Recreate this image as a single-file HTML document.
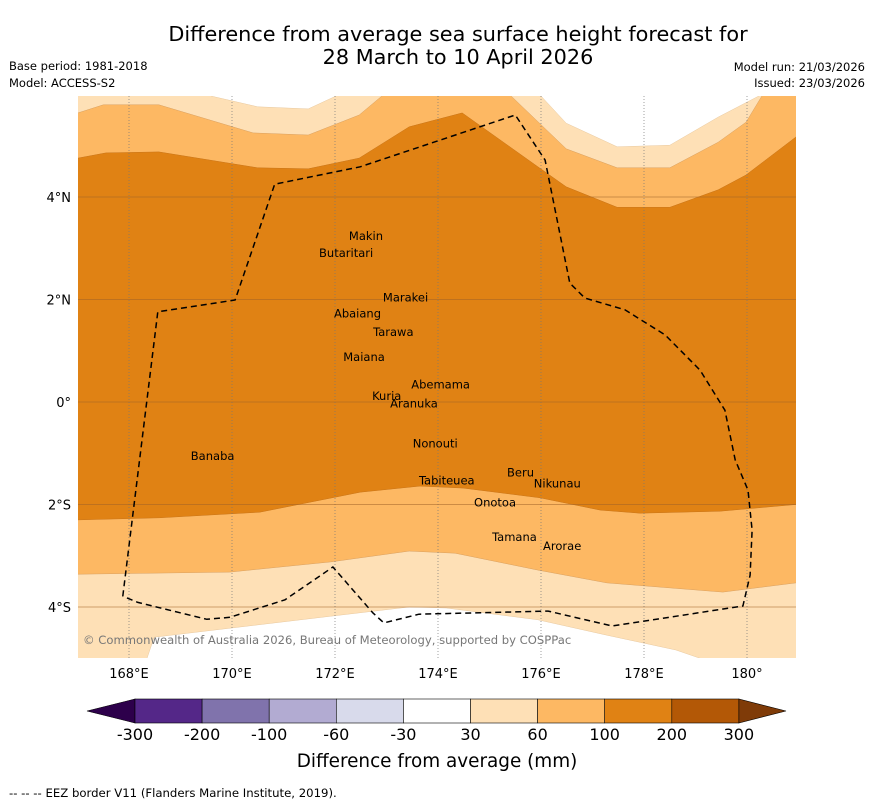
<!DOCTYPE html>
<html><head><meta charset="utf-8"><style>
body{margin:0;background:#fff;}
svg{display:block;font-family:"DejaVu Sans","Liberation Sans",sans-serif;}
</style></head><body>
<svg id="chart" width="873" height="804" viewBox="0 0 873 804" xmlns="http://www.w3.org/2000/svg">
<text x="458" y="41" font-size="20.8" text-anchor="middle">Difference from average sea surface height forecast for</text>
<text x="458" y="64" font-size="20.8" text-anchor="middle">28 March to 10 April 2026</text>
<text x="9" y="70" font-size="11.5">Base period: 1981-2018</text>
<text x="9" y="87" font-size="11.5">Model: ACCESS-S2</text>
<text x="865" y="71" font-size="11.5" text-anchor="end">Model run: 21/03/2026</text>
<text x="865" y="87" font-size="11.5" text-anchor="end">Issued: 23/03/2026</text>
<defs><clipPath id="mapclip"><rect x="78" y="96" width="718" height="562"/></clipPath></defs>
<g id="map" clip-path="url(#mapclip)"></g>
<g id="axes"></g>
<g id="cbar"></g>
<text x="437" y="767" font-size="18.4" text-anchor="middle">Difference from average (mm)</text>
<text x="9" y="797" font-size="11.7">--  --  -- EEZ border V11 (Flanders Marine Institute, 2019).</text>
</svg>
<script>
const lonTicks=[168,170,172,174,176,178,180];
const lonTickLabels=["168°E","170°E","172°E","174°E","176°E","178°E","180°"];
const latTicks=[4,2,0,-2,-4];
const latTickLabels=["4°N","2°N","0°","2°S","4°S"];
const band100Top=[[167.01,4.76],[167.55,4.86],[168.58,4.88],[170.50,4.57],[171.48,4.55],[172.47,4.76],[173.44,5.37],[174.47,5.64],[175.94,4.59],[176.49,4.20],[177.48,3.80],[178.50,3.80],[179.44,4.14],[179.98,4.43],[180.95,5.17]];
const band100Bottom=[[167.01,-2.30],[168.60,-2.26],[170.54,-2.15],[172.49,-1.76],[173.65,-1.64],[174.49,-1.68],[175.98,-1.87],[177.15,-2.11],[177.92,-2.17],[179.48,-2.13],[180.95,-2.00]];
const band60TopLeft=[[167.01,5.64],[167.50,5.80],[168.58,5.80],[170.41,5.25],[171.48,5.21],[172.47,5.60],[172.91,5.97]];
const band60TopRight=[[175.42,5.97],[176.49,4.94],[177.48,4.57],[178.50,4.57],[179.44,5.07],[179.98,5.46],[180.29,5.97]];
const band60Bottom=[[167.01,-3.36],[169.96,-3.32],[171.92,-3.12],[173.44,-2.91],[174.33,-2.95],[175.94,-3.28],[177.28,-3.53],[179.53,-3.71],[180.95,-3.53]];
const whiteTopLeft=[[169.59,5.97],[170.50,5.76],[171.48,5.72],[172.02,5.97]];
const whiteTopRight=[[176.00,5.97],[176.49,5.44],[177.48,4.98],[178.50,5.01],[179.44,5.56],[180.23,5.97]];
const whiteBottom=[[168.35,-5.0],[168.49,-4.59],[171.92,-4.18],[173.44,-4.00],[174.16,-4.02],[175.94,-4.25],[177.28,-4.55],[178.62,-4.84],[179.09,-5.0]];
const eezBorder=[[167.88,-3.79],[168.56,1.76],[170.06,1.99],[170.83,4.25],[172.49,4.59],[175.50,5.60],[176.08,4.72],[176.56,2.32],[176.85,2.03],[177.63,1.80],[178.41,1.31],[179.09,0.62],[179.57,-0.16],[179.77,-1.13],[180.02,-1.72],[180.10,-2.50],[180.06,-3.38],[179.92,-3.98],[177.38,-4.37],[176.14,-4.08],[173.63,-4.14],[172.95,-4.31],[172.74,-4.12],[171.96,-3.22],[171.03,-3.86],[169.96,-4.2],[169.51,-4.24],[168.17,-3.91],[167.88,-3.79]];
const islandNames=["Makin","Butaritari","Marakei","Abaiang","Tarawa","Maiana","Abemama","Kuria","Aranuka","Nonouti","Banaba","Beru","Nikunau","Tabiteuea","Onotoa","Tamana","Arorae"];
const islandLon=[172.27,171.69,172.93,171.98,172.74,172.16,173.48,172.72,173.07,173.51,169.20,175.34,175.86,173.63,174.70,175.05,176.04];
const islandLat=[3.24,2.91,2.04,1.73,1.37,0.88,0.34,0.12,-0.03,-0.81,-1.05,-1.38,-1.59,-1.53,-1.96,-2.63,-2.81];
const cbarLabels=["-300","-200","-100","-60","-30","30","60","100","200","300"];
const cbarColors=["#542788","#8073ac","#b2abd2","#d8daeb","#ffffff","#fee0b6","#fdb863","#e08214","#b35806"];

const NS="http://www.w3.org/2000/svg";
const X=lon=>77.5+(lon-167)*51.5;
const Y=lat=>402-lat*51.25;
function mk(tag,attrs,parent){const e=document.createElementNS(NS,tag);for(const k in attrs)e.setAttribute(k,attrs[k]);parent.appendChild(e);return e;}
const pts=a=>a.map(p=>X(p[0]).toFixed(1)+","+Y(p[1]).toFixed(1));
const map=document.getElementById('map');
let el;
el=mk('rect',{x:78,y:96,width:718,height:562,fill:'#fee0b6'},map);


const TOP=6.2,BOT=-5.3;
let p60=[...pts(band60TopLeft), ...pts([[172.91,TOP],[175.42,TOP]]), ...pts(band60TopRight), ...pts([[180.29,TOP],[181.2,TOP],[181.2,-3.53]]), ...pts(band60Bottom.slice().reverse()), ...pts([[166.8,-3.36],[166.8,5.64]])];
el=mk('polygon',{points:p60.join(' '),fill:'#fdb863',stroke:'#d9a060','stroke-width':0.5},map);


let p100=[...pts(band100Top), ...pts([[181.2,5.17],[181.2,-2.0]]), ...pts(band100Bottom.slice().reverse()), ...pts([[166.8,-2.3],[166.8,4.76]])];
el=mk('polygon',{points:p100.join(' '),fill:'#e08214',stroke:'#c87418','stroke-width':0.5},map);


[[whiteTopLeft,'white-region-top-left'],[whiteTopRight,'white-region-top-right'],[whiteBottom,'white-region-bottom']].forEach(([a,n])=>{
  let q=pts(a);
  if(a===whiteBottom){q=q.concat(pts([[179.09,BOT],[168.35,BOT]]));}else{q=q.concat(pts([[a[a.length-1][0],TOP],[a[0][0],TOP]]));}
  const e=mk('polygon',{points:q.join(' '),fill:'#ffffff',stroke:'#e8c9a0','stroke-width':0.5},map);
  
  
});
lonTicks.forEach(l=>{const e=mk('line',{x1:X(l),x2:X(l),y1:96,y2:658,stroke:'#777','stroke-width':0.7,'stroke-dasharray':'1,2'},map);
  
  });
latTicks.forEach(l=>{const e=mk('line',{x1:78,x2:796,y1:Y(l),y2:Y(l),stroke:'#a0642a','stroke-width':0.8,'stroke-opacity':0.7},map);
  
  });
el=mk('polyline',{points:pts(eezBorder).join(' '),fill:'none',stroke:'#000','stroke-width':1.5,'stroke-dasharray':'6,4'},map);


islandNames.forEach((n,i)=>{const t=mk('text',{x:X(islandLon[i]),y:Y(islandLat[i]),'font-size':11.5,'text-anchor':'start','dominant-baseline':'central',fill:'#000'},map);t.textContent=n;
  
  });
el=mk('text',{x:83,y:644,'font-size':11.6,fill:'#777'},map);el.textContent="© Commonwealth of Australia 2026, Bureau of Meteorology, supported by COSPPac";


const ax=document.getElementById('axes');
lonTicks.forEach((l,i)=>{const t=mk('text',{x:X(l),y:678,'font-size':13,'text-anchor':'middle'},ax);t.textContent=lonTickLabels[i];
  
  });
latTicks.forEach((l,i)=>{const t=mk('text',{x:71,y:Y(l)+5,'font-size':13,'text-anchor':'end'},ax);t.textContent=latTickLabels[i];
  
  });
const cb=document.getElementById('cbar');
const cx0=135,cw=67.1,cy=699,ch=24;
el=mk('polygon',{points:`${cx0},${cy} ${cx0},${cy+ch} 87,${cy+ch/2}`,fill:'#2d004b',stroke:'#000','stroke-width':0.6},cb);


cbarColors.forEach((c,i)=>{const r=mk('rect',{x:cx0+i*cw,y:cy,width:cw,height:ch,fill:c,stroke:'#000','stroke-width':0.6},cb);
  
  });
const cx1=cx0+cbarColors.length*cw;
el=mk('polygon',{points:`${cx1},${cy} ${cx1},${cy+ch} 786,${cy+ch/2}`,fill:'#7f3b08',stroke:'#000','stroke-width':0.6},cb);


cbarLabels.forEach((s,i)=>{const t=mk('text',{x:cx0+i*cw,y:740,'font-size':16,'text-anchor':'middle'},cb);t.textContent=s;
  
  });
</script>
</body></html>
